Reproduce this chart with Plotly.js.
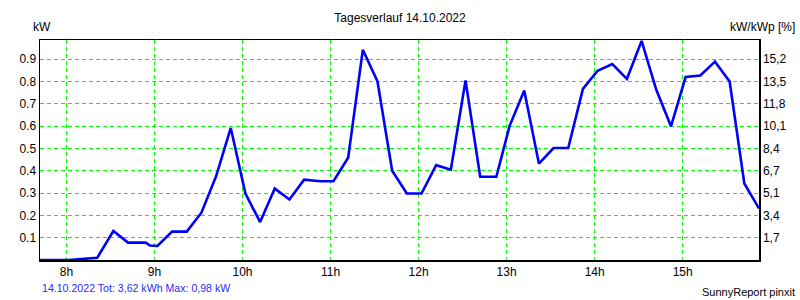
<!DOCTYPE html>
<html>
<head>
<meta charset="utf-8">
<script src="https://cdn.plot.ly/plotly-3.0.1.min.js"></script>
<style>
  html, body { margin: 0; padding: 0; background: #ffffff; }
  #chart { width: 800px; height: 300px; }
</style>
</head>
<body>
<div id="chart"></div>
<script>
// ---- data ----
const day = '2022-10-14';
const times = [
  '07:42','07:52','08:02','08:12','08:21','08:32','08:42','08:54','08:57','09:02',
  '09:12','09:22','09:32','09:42','09:52','10:02','10:12','10:22','10:32','10:42',
  '10:53','11:02','11:12','11:22','11:32','11:42','11:52','12:02','12:12','12:22',
  '12:32','12:42','12:53','13:02','13:12','13:22','13:32','13:42','13:52','14:02',
  '14:12','14:22','14:32','14:42','14:52','15:02','15:12','15:22','15:32','15:42',
  '15:52'
];
const powerKW = [
  0.000,0.000,0.000,0.005,0.010,0.130,0.078,0.078,0.065,0.063,
  0.127,0.127,0.212,0.375,0.592,0.298,0.170,0.320,0.271,0.360,
  0.353,0.353,0.458,0.942,0.800,0.400,0.298,0.298,0.425,0.405,
  0.805,0.373,0.373,0.600,0.760,0.432,0.502,0.502,0.767,0.848,
  0.878,0.812,0.982,0.763,0.599,0.820,0.827,0.889,0.800,0.343,
  0.231
];
const hourTicks = ['08:00','09:00','10:00','11:00','12:00','13:00','14:00','15:00'];
const hourLabels = ['8h','9h','10h','11h','12h','13h','14h','15h'];
const kwTicks = [0.1,0.2,0.3,0.4,0.5,0.6,0.7,0.8,0.9];
const kwLabels = ['0.1','0.2','0.3','0.4','0.5','0.6','0.7','0.8','0.9'];
const pctLabels = ['1,7','3,4','5,1','6,7','8,4','10,1','11,8','13,5','15,2'];
const titleText = 'Tagesverlauf 14.10.2022';
const footerText = '14.10.2022 Tot: 3,62 kWh Max: 0,98 kW';
const creditText = 'SunnyReport pinxit';

const xs = times.map(t => day + ' ' + t);
const FONT = 'Liberation Sans, Arial, sans-serif';
const yRange = [0, 0.986];

const trace = {
  x: xs, y: powerKW, type: 'scatter', mode: 'lines',
  line: { color: '#0000ff', width: 2.6 },
  hoverinfo: 'skip', showlegend: false
};
// invisible trace to activate the right axis
const traceR = {
  x: [xs[0]], y: [0], yaxis: 'y2', type: 'scatter', mode: 'lines',
  line: { color: 'rgba(0,0,0,0)' }, hoverinfo: 'skip', showlegend: false
};

const gridStyle = { gridcolor: '#00ff00', gridwidth: 1, griddash: '4px,3px' };

const layout = {
  width: 800, height: 300,
  margin: { l: 40, r: 41, t: 40, b: 40, pad: 0 },
  paper_bgcolor: '#ffffff', plot_bgcolor: '#ffffff',
  font: { family: FONT, size: 12, color: '#000000' },
  title: { text: titleText, x: 0.5, xanchor: 'center', y: 0.94, yanchor: 'middle',
           font: { family: FONT, size: 12, color: '#000000' } },
  xaxis: Object.assign({
    type: 'date',
    range: [xs[0], xs[xs.length - 1]],
    tickvals: hourTicks.map(t => day + ' ' + t), ticktext: hourLabels,
    showline: true, linecolor: '#000000', linewidth: 1.5, mirror: true,
    ticks: '', showgrid: true, zeroline: false,
    tickfont: { family: FONT, size: 12, color: '#000000' }
  }, gridStyle),
  yaxis: Object.assign({
    range: yRange, tickvals: kwTicks, ticktext: kwLabels,
    showline: true, linecolor: '#000000', linewidth: 1.5, mirror: true,
    ticks: '', showgrid: true, zeroline: false,
    tickfont: { family: FONT, size: 12, color: '#000000' }
  }, gridStyle),
  yaxis2: {
    overlaying: 'y', side: 'right', range: yRange,
    tickvals: kwTicks, ticktext: pctLabels,
    showline: true, linecolor: '#000000', linewidth: 1.5,
    ticks: '', showgrid: false, zeroline: false,
    tickfont: { family: FONT, size: 12, color: '#000000' }
  },
  annotations: [
    { text: 'kW', xref: 'paper', yref: 'paper', x: -0.013, y: 1.058,
      xanchor: 'left', yanchor: 'middle', showarrow: false,
      font: { family: FONT, size: 12, color: '#000000' } },
    { text: 'kW/kWp [%]', xref: 'paper', yref: 'paper', x: 1.0535, y: 1.06,
      xanchor: 'right', yanchor: 'middle', showarrow: false,
      font: { family: FONT, size: 12, color: '#000000' } },
    { text: footerText, xref: 'paper', yref: 'paper', x: 0.0, y: -0.127,
      xanchor: 'left', yanchor: 'middle', showarrow: false,
      font: { family: FONT, size: 10.6, color: '#2a2aff' } },
    { text: creditText, xref: 'paper', yref: 'paper', x: 1.0535, y: -0.144,
      xanchor: 'right', yanchor: 'middle', showarrow: false,
      font: { family: FONT, size: 11, color: '#000000' } }
  ]
};

Plotly.newPlot('chart', [trace, traceR], layout, { displayModeBar: false, staticPlot: true });
</script>
</body>
</html>
